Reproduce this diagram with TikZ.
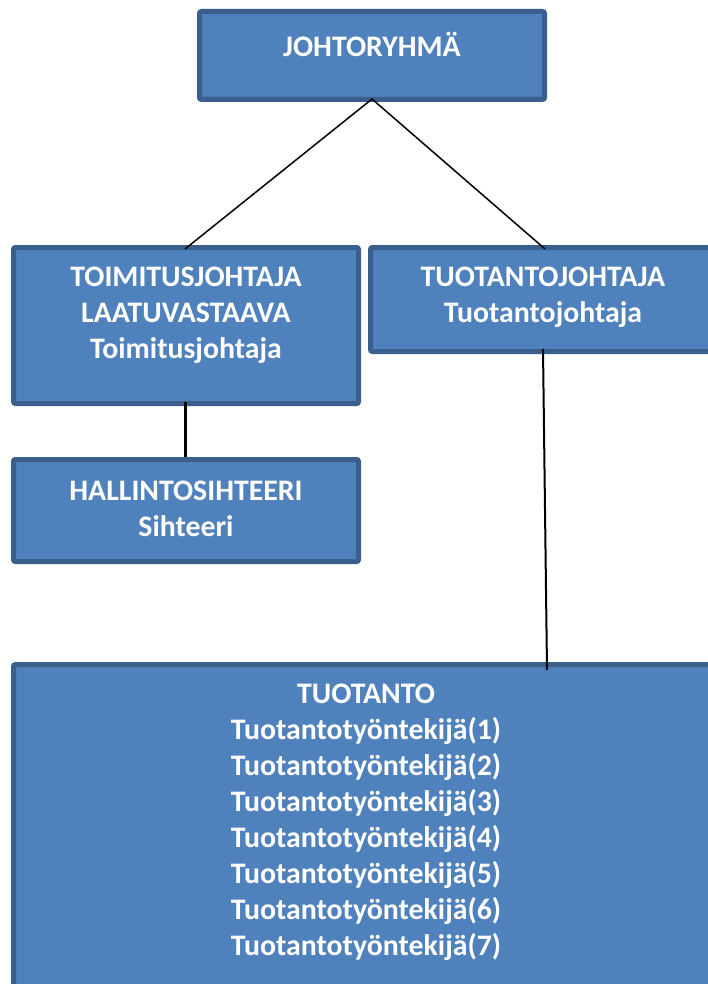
\documentclass[tikz,border=0pt]{standalone}
\usepackage{fontspec}
\setmainfont{Carlito}
\usepackage{tikz}

\definecolor{boxfill}{HTML}{4F81BD}
\definecolor{boxline}{HTML}{3A5F8C}

\begin{document}
\begin{tikzpicture}[x=1pt,y=-1pt,
  orgbox/.style={draw=boxline, fill=boxfill, line width=5pt, rounded corners=2pt, inner sep=0pt},
  orgtext/.style={anchor=north, align=center, text=white, inner sep=0pt,
    font=\bfseries\fontsize{29.8}{36}\selectfont, execute at begin node=\strut},
  link/.style={draw=black, line width=1.5pt}]
\path [use as bounding box, clip] (0,0) rectangle (708,984);
% boxes
\node [orgbox, minimum width=345pt, minimum height=88pt] (johto) at (372,55.5) { };
\node [orgbox, minimum width=345pt, minimum height=156pt] (toimitus) at (186,325.5) { };
\node [orgbox, minimum width=345pt, minimum height=104pt] (tuotj) at (543,299.5) { };
\node [orgbox, minimum width=345pt, minimum height=102pt] (hallinto) at (186,510.5) { };
\node [orgbox, minimum width=705pt, minimum height=343pt] (tuotanto) at (366,836) { };
% texts
\node [orgtext] (johtot) at ([yshift=-22pt]johto.north) {JOHTORYHMÄ};
\node [orgtext] (toimitust) at ([yshift=-22pt]toimitus.north) {TOIMITUSJOHTAJA\\LAATUVASTAAVA\\Toimitusjohtaja};
\node [orgtext] (tuotjt) at ([yshift=-22pt]tuotj.north) {TUOTANTOJOHTAJA\\Tuotantojohtaja};
\node [orgtext] (hallintot) at ([yshift=-23.5pt]hallinto.north) {HALLINTOSIHTEERI\\Sihteeri};
\node [orgtext] (tuotantot) at ([yshift=-22pt]tuotanto.north) {TUOTANTO\\Tuotantotyöntekijä(1)\\Tuotantotyöntekijä(2)\\Tuotantotyöntekijä(3)\\Tuotantotyöntekijä(4)\\Tuotantotyöntekijä(5)\\Tuotantotyöntekijä(6)\\Tuotantotyöntekijä(7)};
% connectors
\draw [link] ([yshift=3pt]johto.south) -- ([xshift=-1pt,yshift=-4pt]toimitus.north);
\draw [link] ([yshift=3pt]johto.south) -- ([xshift=2pt,yshift=-4pt]tuotj.north);
\draw [link, line width=3pt] ([xshift=-1pt,yshift=4pt]toimitus.south) -- ([xshift=-1pt]hallinto.north);
\draw [link, line width=2pt] ([yshift=5pt]tuotj.south) -- ([xshift=4pt,yshift=-8pt]tuotanto.north -| tuotj.south);
\end{tikzpicture}
\end{document}
